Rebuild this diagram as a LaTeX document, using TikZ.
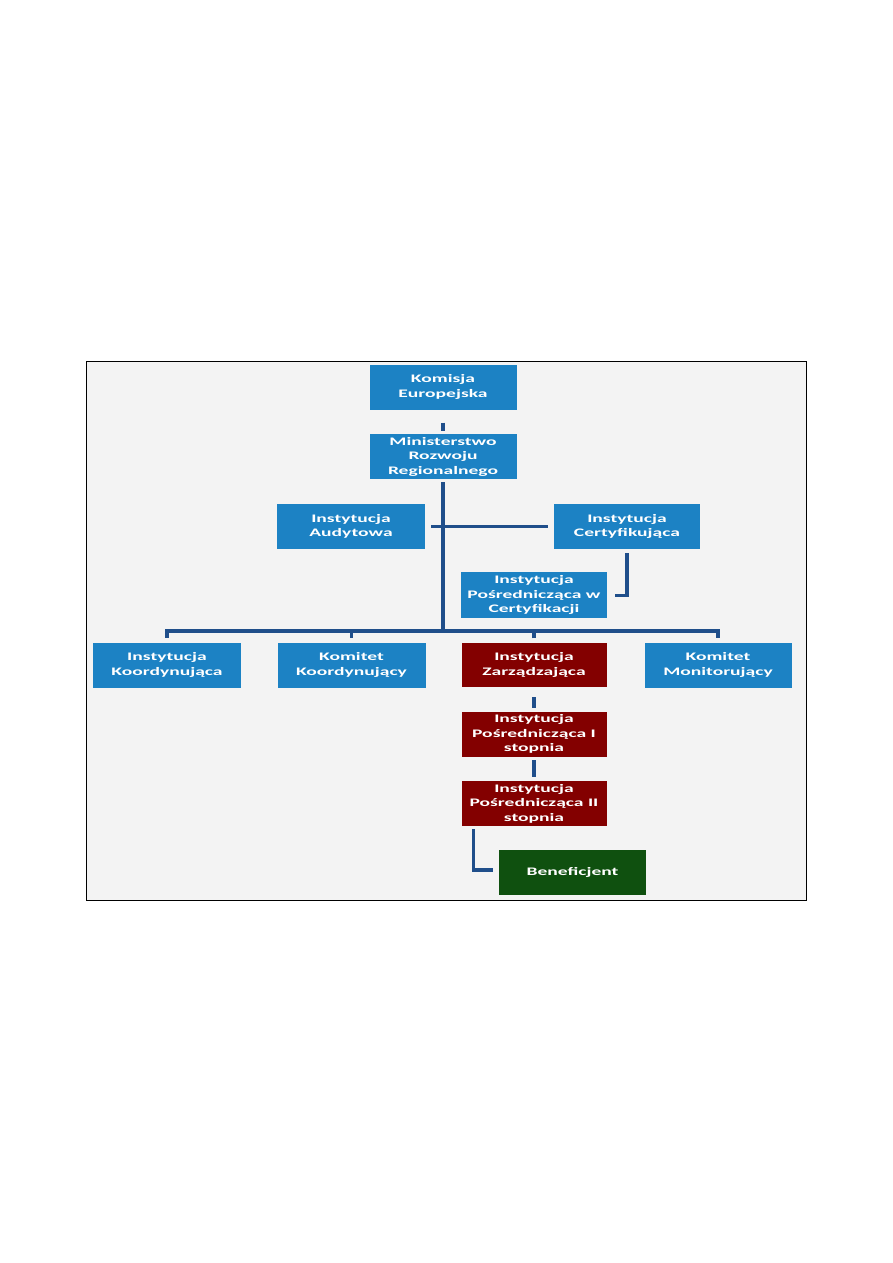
\documentclass[tikz,border=0pt]{standalone}
\usepackage{fontspec}
\newfontfamily\boxfont[FakeStretch=1.7]{Carlito Bold}
\usetikzlibrary{calc}
\definecolor{boxblue}{HTML}{1C82C4}
\definecolor{boxred}{HTML}{830000}
\definecolor{boxgreen}{HTML}{0F500F}
\definecolor{linenavy}{HTML}{1F4E8A}
\definecolor{panelgrey}{HTML}{F3F3F3}
\tikzset{
  orgbox/.style={draw=none, fill=boxblue, text=white, minimum width=147, minimum height=45,
    inner sep=0pt, align=center, font=\boxfont\fontsize{11.5}{14.5}\selectfont},
  redbox/.style={orgbox, fill=boxred, minimum width=145},
  greenbox/.style={orgbox, fill=boxgreen},
  conn/.style={draw=linenavy, line width=3.5}
}
\begin{document}
\begin{tikzpicture}[x=1pt,y=-1pt]
\useasboundingbox (0,0) rectangle (893,1263);
\fill[white] (0,0) rectangle (893,1263);
\draw[fill=panelgrey, line width=1.3] (86.5,361.5) rectangle (806.5,900.5);

\node[orgbox] (ke)  at (443,387)   {Komisja\\Europejska};
\node[orgbox] (mrr) at (443,456.5) {Ministerstwo\\Rozwoju\\Regionalnego};
\node[orgbox, minimum width=148] (ia) at (351,526.5) {Instytucja\\Audytowa};
\node[orgbox, minimum width=146] (ic) at (627,526.5) {Instytucja\\Certyfikująca};
\node[orgbox, minimum width=146, minimum height=46] (ipc) at (534,595.3) {Instytucja\\Pośrednicząca w\\Certyfikacji};
\node[orgbox, minimum width=148] (ik) at (167,665) {Instytucja\\Koordynująca};
\node[orgbox, minimum width=148] (kk) at (351.5,665) {Komitet\\Koordynujący};
\node[redbox, minimum height=44] (iz) at (534,665) {Instytucja\\Zarządzająca};
\node[orgbox] (km) at (718,665) {Komitet\\Monitorujący};
\node[redbox] (ip1) at (534,734) {Instytucja\\Pośrednicząca I\\stopnia};
\node[redbox] (ip2) at (534,803.5) {Instytucja\\Pośrednicząca II\\stopnia};
\node[greenbox] (ben) at (572.5,872.5) {Beneficjent};

\coordinate (bar) at (443,631);

% connectors
\draw[conn] ($(ke.south)+(0,13)$) -- ($(mrr.north)+(0,-3)$);
\draw[conn, line width=4] ($(mrr.south)+(0,3)$) -- (bar);
\draw[conn] ($(ia.east)+(6,0)$) -- ($(ic.west)+(-6,0)$);
\draw[conn] ($(ic.south)+(0,4)$) |- ($(ipc.east)+(8,0)$);
\draw[conn] ($(ik.north)+(0,-4.5)$) -- ($(ik.north)+(0,-11.5)$) -- ($(km.north)+(0,-11.5)$) -- ($(km.north)+(0,-4.5)$);
\draw[conn] ($(kk.north)+(0,-4.5)$) -- ($(kk.north)+(0,-11.5)$);
\draw[conn] ($(iz.north)+(0,-4.5)$) -- ($(iz.north)+(0,-11.5)$);
\draw[conn] ($(iz.south)+(0,10)$) -- ($(ip1.north)+(0,-3.5)$);
\draw[conn] ($(ip1.south)+(0,3.5)$) -- ($(ip2.north)+(0,-4)$);
\draw[conn] ($(ip2.south west)+(12,3)$) |- ($(ben.west)+(-6,-2.5)$);
\end{tikzpicture}
\end{document}
